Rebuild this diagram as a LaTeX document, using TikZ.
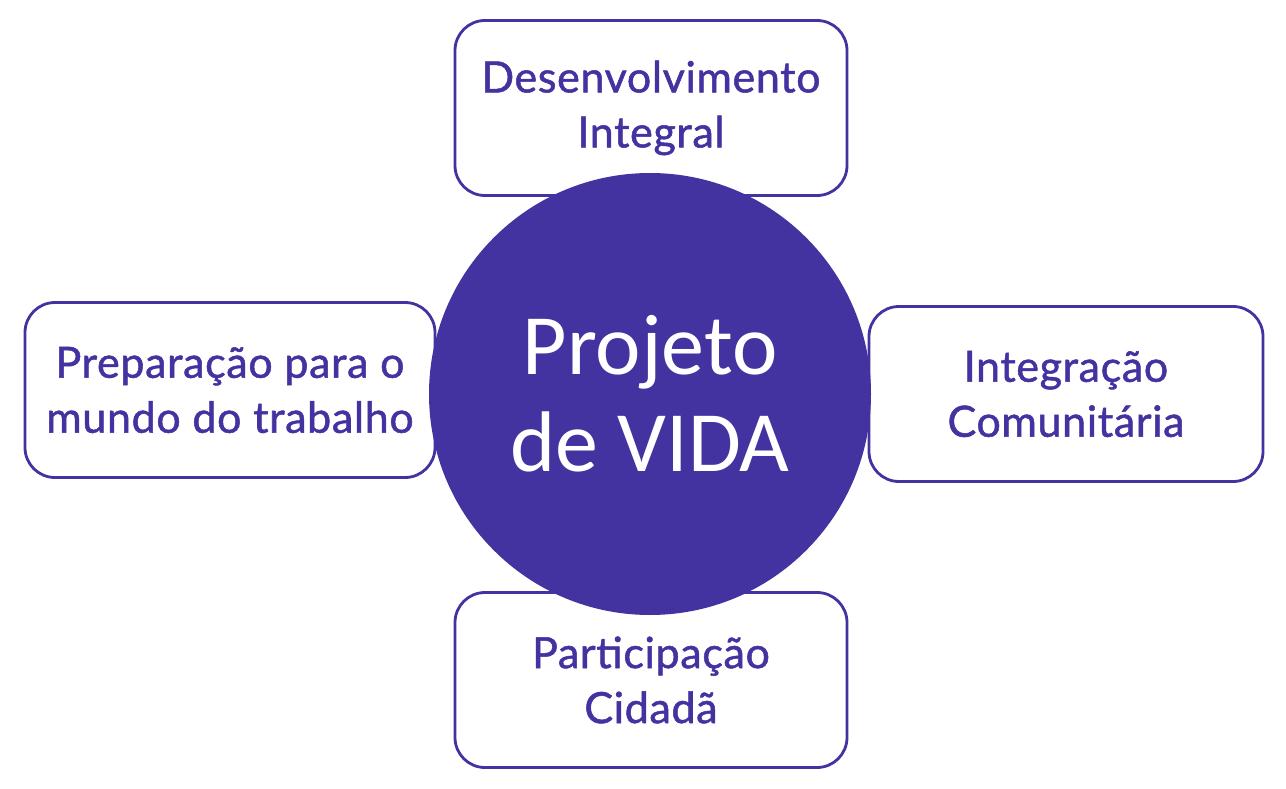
\documentclass[tikz,border=0pt]{standalone}
\usepackage{fontspec}
\newfontfamily\boxfont{Lato}[FakeBold=1.2, LetterSpace=1.5]
\newfontfamily\circfont{Carlito}
\definecolor{vida}{RGB}{67,51,160}
\begin{document}
\begin{tikzpicture}[x=1pt,y=-1pt,
  pillar/.style={draw=vida, line width=2.8pt, fill=white, rounded corners=30pt,
    minimum width=392pt, minimum height=175pt, align=center, text=vida, inner sep=0pt,
    font=\boxfont\fontsize{43}{55}\selectfont},
  core/.style={circle, fill=vida, minimum size=442pt, inner sep=0pt, align=center,
    text=white, font=\circfont\fontsize{86}{97}\selectfont}]
\useasboundingbox (0,0) rectangle (1286,789);
\node[pillar] (top) at (651,108) {Desenvolvimento\\Integral};
\node[pillar, minimum width=410pt] (left) at (230,390) {Preparação para o\\mundo do trabalho};
\node[pillar, minimum width=394pt] (right) at (1066,394) {Integração\\Comunitária};
\node[pillar] (bottom) at (651,680) {Participação\\Cidadã};
\node[core] (vida) at (650,394) {Projeto\\de VIDA};
\end{tikzpicture}
\end{document}
